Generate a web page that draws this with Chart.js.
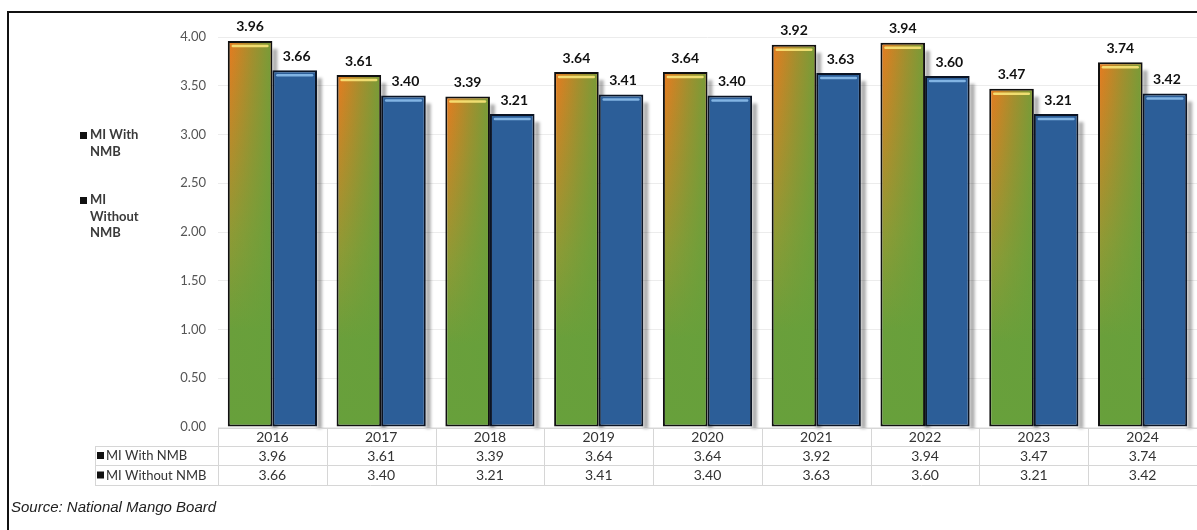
<!DOCTYPE html>
<html lang="en">
<head>
    <meta charset="UTF-8">
    <title>MI With / Without NMB</title>
    <style>
        body { margin: 0; background: #fff; }
        .wrap { width: 1197px; height: 530px; position: relative; }
    </style>
</head>
<body>
    <div class="wrap">
        <canvas id="miChart"></canvas>
    </div>

    <script src="https://cdn.jsdelivr.net/npm/chart.js"></script>
    <script>
const years = ['2016', '2017', '2018', '2019', '2020', '2021', '2022', '2023', '2024'];
const withNMB = [3.96, 3.61, 3.39, 3.64, 3.64, 3.92, 3.94, 3.47, 3.74];
const withoutNMB = [3.66, 3.40, 3.21, 3.41, 3.40, 3.63, 3.60, 3.21, 3.42];
const seriesNames = ['MI With NMB', 'MI Without NMB'];
const sourceNote = 'Source: National Mango Board';

const ORANGE = '#e47c20';
const GREEN = '#67a03b';
const BLUE = '#2c5e98';

// vertical orange -> green fill for the first series
function greenFill(c) {
    const chart = c.chart;
    if (c.type !== 'data' || !chart.chartArea) return GREEN;
    const y = chart.scales.y;
    const top = y.getPixelForValue(c.raw);
    const bottom = y.getPixelForValue(0);
    const g = chart.ctx.createLinearGradient(0, top, 0, bottom);
    g.addColorStop(0, ORANGE);
    g.addColorStop(0.5, '#8f9a35');
    g.addColorStop(0.75, '#6a9f3b');
    g.addColorStop(1, GREEN);
    return g;
}

const barLook = {
    id: 'barLook',
    // soft drop shadow on the right of every bar
    beforeDatasetsDraw(chart) {
        const ctx = chart.ctx;
        ctx.save();
        ctx.filter = 'blur(1.5px)';
        ctx.fillStyle = 'rgba(0,0,0,0.32)';
        chart.data.datasets.forEach((ds, d) => {
            chart.getDatasetMeta(d).data.forEach(el => {
                const p = el.getProps(['x', 'y', 'base', 'width'], true);
                ctx.fillRect(p.x + p.width / 2, p.y + 8, 5, p.base - p.y - 6);
            });
        });
        ctx.restore();
    },
    afterDatasetDraw(chart, args) {
        const ctx = chart.ctx;
        const idx = args.index;
        args.meta.data.forEach(el => {
            const p = el.getProps(['x', 'y', 'base', 'width'], true);
            const l = p.x - p.width / 2 + 2, r = p.x + p.width / 2 - 2;
            const t = p.y + 2, b = p.base - 2;
            ctx.save();
            if (idx === 0) {
                const h = ctx.createLinearGradient(l, 0, r, 0);
                h.addColorStop(0, 'rgba(103,160,59,0)');
                h.addColorStop(0.55, 'rgba(103,160,59,0.5)');
                h.addColorStop(1, 'rgba(103,160,59,0.85)');
                ctx.fillStyle = h;
                ctx.fillRect(l, t, r - l, b - t);
            }
            // glossy line under the top edge
            ctx.strokeStyle = idx === 0 ? 'rgba(250,230,120,0.9)' : 'rgba(140,190,235,0.9)';
            ctx.lineWidth = 2.5;
            ctx.lineCap = 'round';
            ctx.beginPath();
            ctx.moveTo(l + 3, t + 3);
            ctx.lineTo(r - 3, t + 3);
            ctx.stroke();
            ctx.restore();
        });
    }
};

const extras = {
    id: 'extras',
    afterDraw(chart) {
        const ctx = chart.ctx;
        const x = chart.scales.x;
        const area = chart.chartArea;
        const series = [withNMB, withoutNMB];

        // value labels above bars
        ctx.save();
        ctx.fillStyle = '#111';
        ctx.font = 'bold 14px Lato';
        ctx.textAlign = 'center';
        ctx.textBaseline = 'middle';
        series.forEach((vals, d) => {
            chart.getDatasetMeta(d).data.forEach((el, i) => {
                ctx.fillText(vals[i].toFixed(2), el.x + (d === 1 ? 2 : 0), el.y - 14);
            });
        });
        ctx.restore();

        // side legend
        ctx.save();
        ctx.font = 'bold 13px Lato';
        ctx.textBaseline = 'middle';
        const legendY = [135, 200];
        seriesNames.forEach((name, k) => {
            const words = name.split(' ');
            const lines = [];
            let cur = '';
            words.forEach(w => {
                const test = cur ? cur + ' ' + w : w;
                if (cur && ctx.measureText(test).width > 56) { lines.push(cur); cur = w; }
                else cur = test;
            });
            lines.push(cur);
            ctx.fillStyle = '#111';
            ctx.fillRect(80, legendY[k] - 3, 7, 7);
            ctx.fillStyle = '#3a3a3a';
            lines.forEach((ln, j) => ctx.fillText(ln, 90, legendY[k] + j * 16.5));
        });
        ctx.restore();

        // data table
        const rowLines = [446, 465, 485];
        const tableLeft = 95;
        const bounds = [area.left];
        for (let i = 0; i < years.length - 1; i++) {
            bounds.push((x.getPixelForValue(i) + x.getPixelForValue(i + 1)) / 2);
        }
        bounds.push(area.right);
        ctx.save();
        ctx.strokeStyle = '#d6d6d6';
        ctx.lineWidth = 1;
        ctx.beginPath();
        ctx.moveTo(area.left, 428.5); ctx.lineTo(area.right, 428.5);
        rowLines.forEach(yy => { ctx.moveTo(tableLeft, yy + 0.5); ctx.lineTo(area.right, yy + 0.5); });
        bounds.forEach(bx => { ctx.moveTo(Math.round(bx) + 0.5, 428); ctx.lineTo(Math.round(bx) + 0.5, 485); });
        ctx.moveTo(tableLeft + 0.5, 446); ctx.lineTo(tableLeft + 0.5, 485);
        ctx.stroke();

        ctx.font = '14px Lato';
        ctx.fillStyle = '#333';
        ctx.textAlign = 'center';
        ctx.textBaseline = 'middle';
        years.forEach((yr, i) => {
            const cx = x.getPixelForValue(i);
            ctx.fillText(yr, cx, 437);
            ctx.fillText(withNMB[i].toFixed(2), cx, 456);
            ctx.fillText(withoutNMB[i].toFixed(2), cx, 475.5);
        });
        ctx.textAlign = 'left';
        ctx.font = '13px Lato';
        seriesNames.forEach((name, k) => {
            const yy = k === 0 ? 456 : 475.5;
            ctx.fillStyle = '#111';
            ctx.fillRect(97, yy - 4, 7, 7);
            ctx.fillStyle = '#333';
            ctx.fillText(name, 106, yy);
        });

        // source note
        ctx.font = 'italic 15px "Liberation Sans"';
        ctx.fillStyle = '#222';
        ctx.fillText(sourceNote, 11, 508);

        // frame
        ctx.strokeStyle = '#111';
        ctx.lineWidth = 2;
        ctx.beginPath();
        ctx.moveTo(8, 530); ctx.lineTo(8, 12); ctx.lineTo(1197, 12);
        ctx.stroke();
        ctx.restore();
    }
};

new Chart(document.getElementById('miChart'), {
    type: 'bar',
    data: {
        labels: years,
        datasets: [{
            label: seriesNames[0],
            data: withNMB,
            backgroundColor: greenFill,
            borderColor: '#101010',
            borderWidth: 2,
            borderSkipped: false
        }, {
            label: seriesNames[1],
            data: withoutNMB,
            backgroundColor: BLUE,
            borderColor: '#0b1424',
            borderWidth: 2,
            borderSkipped: false
        }]
    },
    options: {
        responsive: true,
        maintainAspectRatio: false,
        animation: false,
        layout: { padding: { top: 37, bottom: 103, left: 0, right: 0 } },
        datasets: { bar: { categoryPercentage: 0.82, barPercentage: 1.0 } },
        plugins: {
            legend: { display: false },
            tooltip: { enabled: false }
        },
        scales: {
            x: { display: false },
            y: {
                min: 0,
                max: 4,
                afterFit(axis) { axis.width = 218; },
                ticks: {
                    stepSize: 0.5,
                    padding: 12,
                    color: '#555',
                    font: { family: 'Lato', size: 13 },
                    callback: v => v.toFixed(2)
                },
                grid: { color: '#ececec', drawTicks: false },
                border: { display: false }
            }
        }
    },
    plugins: [barLook, extras]
});
    </script>
</body>
</html>
